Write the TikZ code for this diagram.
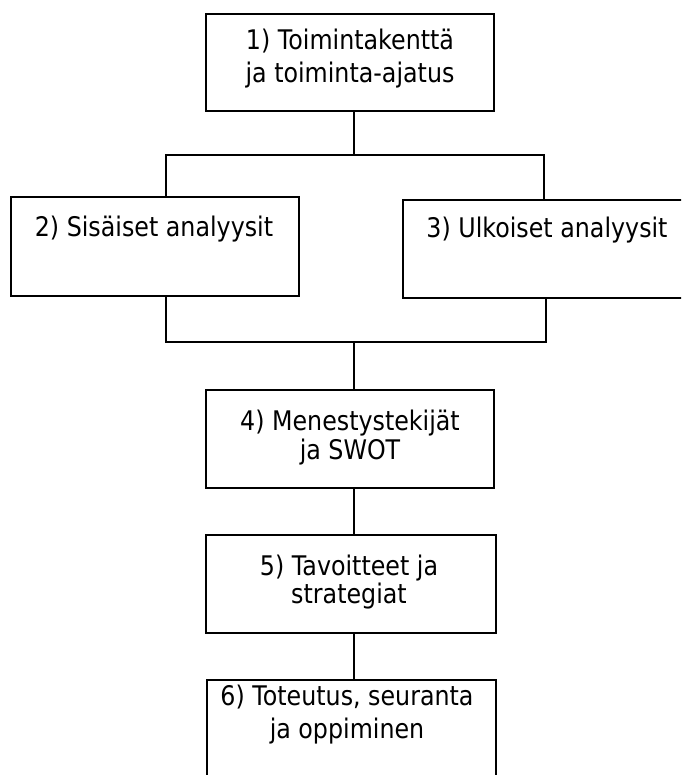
\documentclass[tikz,border=0pt]{standalone}
\usepackage{fontspec}
\setmainfont{DejaVu Sans}[FakeStretch=0.88]
\begin{document}
\begin{tikzpicture}[x=1pt,y=-1pt,
  box/.style={draw=black, line width=2pt, fill=white, rectangle,
    inner sep=0pt, outer sep=0pt, minimum width=#1},
  box/.default=288pt,
  lbl/.style={inner sep=0pt, align=center, anchor=base,
    font=\fontsize{27}{31}\selectfont},
  wire/.style={line width=2pt, line join=miter}]
\clip (0,0) rectangle (681,775);
\fill[white] (0,0) rectangle (681,775);

% boxes
\node[box, minimum height=97pt] (b1) at (350,62.5) {};
\node[box, minimum height=99pt] (b2) at (155,246.5) {};
\node[box, minimum height=98pt] (b3) at (547,249) {};
\node[box, minimum height=98pt] (b4) at (350,439) {};
\node[box=290pt, minimum height=98pt] (b5) at (351,584) {};
\node[box=289pt, minimum height=98pt] (b6) at (351.5,729) {};

% labels (multi-line labels sit on the baseline of their last line)
\node[lbl, font=\fontsize{27}{33}\selectfont] (t1) at (350,83) {1) Toimintakenttä\\ja toiminta-ajatus};
\node[lbl] (t2) at (154,237) {2) Sisäiset analyysit};
\node[lbl] (t3) at (547,238) {3) Ulkoiset analyysit};
\node[lbl, font=\fontsize{27}{29}\selectfont] (t4) at (350,459) {4) Menestystekijät\\ja SWOT};
\node[lbl, font=\fontsize{27}{28}\selectfont] (t5) at (349,603) {5) Tavoitteet ja\\strategiat};
\node[lbl, font=\fontsize{27}{33}\selectfont] (t6) at (347,738) {6) Toteutus, seuranta\\ja oppiminen};

% branch points
\coordinate (tl) at (166,155);
\coordinate (tm) at (354,155);
\coordinate (tr) at (544,155);
\coordinate (bl) at (166,342);
\coordinate (bm) at (354,342);
\coordinate (br) at (546,342);

% connectors
\draw[wire] (b1.south -| tm) -- (tm);
\draw[wire] (b2.north -| tl) -- (tl) -- (tr) -- (b3.north -| tr);
\draw[wire] (b2.south -| bl) -- (bl) -- (br) -- (b3.south -| br);
\draw[wire] (bm) -- (b4.north -| bm);
\draw[wire] (b4.south -| bm) -- (b5.north -| bm);
\draw[wire] (b5.south -| bm) -- (b6.north -| bm);
\end{tikzpicture}
\end{document}
